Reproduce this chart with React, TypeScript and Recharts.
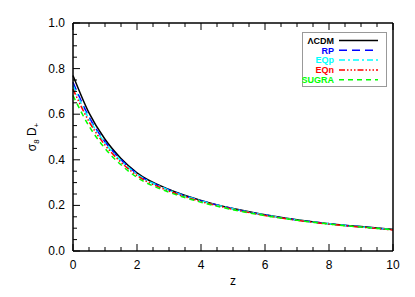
import React from 'react';
import { LineChart, Line, XAxis, YAxis, Legend } from 'recharts';

// redshift samples
const zValues = [0, 0.5, 1, 1.5, 2, 3, 4, 5, 6, 7, 8, 9, 10];

// sigma8 * D+ for each model
const lcdm = [0.77, 0.606, 0.49, 0.406, 0.343, 0.27, 0.222, 0.186, 0.159, 0.137, 0.12, 0.107, 0.095];
const rp = [0.74, 0.588, 0.479, 0.4, 0.339, 0.268, 0.221, 0.185, 0.158, 0.136, 0.12, 0.106, 0.094];
const eqp = [0.726, 0.58, 0.474, 0.396, 0.337, 0.267, 0.22, 0.185, 0.158, 0.136, 0.119, 0.106, 0.094];
const eqn = [0.71, 0.568, 0.465, 0.389, 0.331, 0.263, 0.217, 0.183, 0.156, 0.135, 0.118, 0.105, 0.092];
const sugra = [0.682, 0.548, 0.45, 0.378, 0.323, 0.258, 0.214, 0.181, 0.155, 0.135, 0.118, 0.105, 0.093];

const xTicks = [0, 0.5, 1, 1.5, 2, 2.5, 3, 3.5, 4, 4.5, 5, 5.5, 6, 6.5, 7, 7.5, 8, 8.5, 9, 9.5, 10];
const yTicks = [0, 0.05, 0.1, 0.15, 0.2, 0.25, 0.3, 0.35, 0.4, 0.45, 0.5, 0.55, 0.6, 0.65, 0.7, 0.75, 0.8, 0.85, 0.9, 0.95, 1];

const series = [
  { key: 'lcdm', name: 'ΛCDM', color: '#000000', dash: undefined },
  { key: 'rp', name: 'RP', color: '#0000ff', dash: '8 5' },
  { key: 'eqp', name: 'EQp', color: '#00ffff', dash: '6 3 2 3' },
  { key: 'eqn', name: 'EQn', color: '#ff0000', dash: '6 2 1.5 2 1.5 2 1.5 2' },
  { key: 'sugra', name: 'SUGRA', color: '#00ff00', dash: '5 4' },
];

const data = zValues.map((z, i) => ({
  z,
  lcdm: lcdm[i],
  rp: rp[i],
  eqp: eqp[i],
  eqn: eqn[i],
  sugra: sugra[i],
}));

const FONT = '"Liberation Sans", Arial, sans-serif';

const isMajorX = (v: number) => Math.abs(v % 2) < 1e-6;
const isMajorY = (v: number) => Math.abs(Math.round(v * 100) % 20) === 0;

// ticks point inward like the IDL frame
const makeTick = (side: 'bottom' | 'top' | 'left' | 'right') => (props: any) => {
  const { x, y, payload } = props;
  const v = payload.value;
  const major = side === 'bottom' || side === 'top' ? isMajorX(v) : isMajorY(v);
  const len = major ? 7 : 4;
  let line = null;
  let label = null;
  if (side === 'bottom') {
    line = <line x1={x} y1={y} x2={x} y2={y - len} stroke="#000" strokeWidth={1} />;
    if (major) label = <text x={x} y={y + 18} textAnchor="middle" fontSize={12} fontFamily={FONT} fill="#000">{v}</text>;
  } else if (side === 'top') {
    line = <line x1={x} y1={y} x2={x} y2={y + len} stroke="#000" strokeWidth={1} />;
  } else if (side === 'left') {
    line = <line x1={x} y1={y} x2={x + len} y2={y} stroke="#000" strokeWidth={1} />;
    if (major) label = <text x={x - 8} y={y + 4} textAnchor="end" fontSize={12} fontFamily={FONT} fill="#000">{v.toFixed(1)}</text>;
  } else {
    line = <line x1={x} y1={y} x2={x - len} y2={y} stroke="#000" strokeWidth={1} />;
  }
  return <g>{line}{label}</g>;
};

const LegendBox = () => (
  <svg width={86} height={56} style={{ display: 'block' }}>
    <rect x={0.5} y={0.5} width={84} height={54} fill="#fff" stroke="#999" strokeWidth={1} />
    {series.map((s, i) => {
      const cy = 8.5 + i * 9.8;
      return (
        <g key={s.key}>
          <text x={32} y={cy + 3.2} textAnchor="end" fontSize={9} fontWeight="bold" fontFamily={FONT} fill={s.color}>{s.name}</text>
          <line x1={37} y1={cy} x2={76} y2={cy} stroke={s.color} strokeWidth={1.5} strokeDasharray={s.dash} />
        </g>
      );
    })}
  </svg>
);

export default function App() {
  return (
    <div style={{ position: 'absolute', left: 0, top: 0, width: 415, height: 297, background: '#fff' }}>
      <LineChart width={415} height={297} data={data} margin={{ top: 22, right: 21, bottom: 0, left: 0 }}>
        <XAxis
          xAxisId="x"
          dataKey="z"
          type="number"
          domain={[0, 10]}
          ticks={xTicks}
          interval={0}
          height={46}
          tickSize={0}
          tickMargin={0}
          tickLine={false}
          axisLine={{ stroke: '#000', strokeWidth: 1.5 }}
          tick={makeTick('bottom')}
          label={{ value: 'z', position: 'insideBottom', offset: 12, fontSize: 12, fontFamily: FONT, fill: '#000' }}
        />
        <XAxis
          xAxisId="top"
          dataKey="z"
          type="number"
          orientation="top"
          domain={[0, 10]}
          ticks={xTicks}
          interval={0}
          height={1}
          tickSize={0}
          tickMargin={0}
          tickLine={false}
          axisLine={{ stroke: '#000', strokeWidth: 1.5 }}
          tick={makeTick('top')}
        />
        <YAxis
          yAxisId="y"
          type="number"
          domain={[0, 1]}
          ticks={yTicks}
          interval={0}
          width={73}
          tickSize={0}
          tickMargin={0}
          tickLine={false}
          axisLine={{ stroke: '#000', strokeWidth: 1.5 }}
          tick={makeTick('left')}
          label={({ viewBox }: any) => {
            const cx = viewBox.x + 36;
            const cy = viewBox.y + viewBox.height / 2;
            return (
              <text transform={`translate(${cx},${cy}) rotate(-90)`} textAnchor="middle" fontSize={12} fontFamily={FONT} fill="#000">
                <tspan>σ</tspan>
                <tspan fontSize={8} dy={3}>8</tspan>
                <tspan dy={-3}> D</tspan>
                <tspan fontSize={8} dy={3}>+</tspan>
              </text>
            );
          }}
        />
        <YAxis
          yAxisId="right"
          orientation="right"
          type="number"
          domain={[0, 1]}
          ticks={yTicks}
          interval={0}
          width={1}
          tickSize={0}
          tickMargin={0}
          tickLine={false}
          axisLine={{ stroke: '#000', strokeWidth: 1.5 }}
          tick={makeTick('right')}
        />
        <Legend
          layout="horizontal"
          verticalAlign="middle"
          align="center"
          content={() => <LegendBox />}
          wrapperStyle={{ position: 'absolute', left: 302, top: 32, width: 86, height: 56 }}
        />
        {series.map((s) => (
          <Line
            key={s.key}
            xAxisId="x"
            yAxisId="y"
            type="monotone"
            dataKey={s.key}
            name={s.name}
            stroke={s.color}
            strokeWidth={1.5}
            strokeDasharray={s.dash}
            dot={false}
            activeDot={false}
            isAnimationActive={false}
          />
        ))}
      </LineChart>
    </div>
  );
}
